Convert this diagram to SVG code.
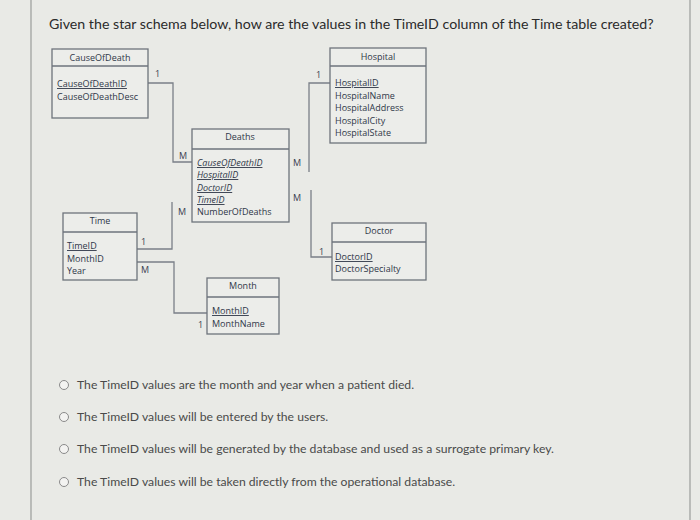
<svg xmlns="http://www.w3.org/2000/svg" width="700" height="520" viewBox="0 0 700 520">
<style>
.bg{fill:#e9eae6}
.frame{stroke:#9a9c9a;stroke-width:1.2}
.box{fill:#ecedea;stroke:#6e737c;stroke-width:1.3}
.div{stroke:#6e737c;stroke-width:1.3}
.hdr{font-family:"Open Sans","DejaVu Sans",sans-serif;font-size:9px;fill:#2f3748;text-anchor:middle}
.att{font-family:"Open Sans","DejaVu Sans",sans-serif;font-size:9px;fill:#2f3748}
.pk{text-decoration:underline}
.fk{text-decoration:underline;font-style:italic}
.card{font-family:"Open Sans","DejaVu Sans",sans-serif;font-size:9px;fill:#3a4150}
.conn{fill:none;stroke:#7a7f88;stroke-width:1.3}
.q{font-family:Lato,"Liberation Sans",sans-serif;font-size:14.2px;fill:#2b2b2b}
.opt{font-family:Lato,"Liberation Sans",sans-serif;font-size:12.2px;fill:#4a4a4a}
.radio{fill:#f3f3f1;stroke:#8a8a8a;stroke-width:1}
</style>
<rect class="bg" x="0" y="0" width="700" height="520"/>
<line class="frame" x1="31" y1="0" x2="31" y2="520"/>
<line class="frame" x1="690" y1="0" x2="690" y2="520"/>
<text class="q" x="49" y="29">Given the star schema below, how are the values in the TimeID column of the Time table created?</text>

<g id="connectors">
<polyline class="conn" points="148,83 173,83 173,162 192,162"/>
<polyline class="conn" points="137,249 172,249 172,202"/>
<polyline class="conn" points="137,262 174,262 174,313 207,313"/>
<polyline class="conn" points="330,83 309,83 309,172"/>
<polyline class="conn" points="311,190 311,257 332,257"/>
<text class="card" x="155" y="77">1</text>
<text class="card" x="179" y="159">M</text>
<text class="card" x="178" y="215">M</text>
<text class="card" x="293" y="166">M</text>
<text class="card" x="293" y="201">M</text>
<text class="card" x="316" y="78">1</text>
<text class="card" x="319" y="255">1</text>
<text class="card" x="141" y="245">1</text>
<text class="card" x="141" y="273">M</text>
<text class="card" x="198" y="328">1</text>
</g>

<g id="CauseOfDeath">
<rect class="box" x="52" y="49" width="96" height="69"/>
<line class="div" x1="52" y1="66" x2="148" y2="66"/>
<text class="hdr" x="100" y="61">CauseOfDeath</text>
<text class="att pk" x="57" y="87">CauseOfDeathID</text>
<text class="att" x="57" y="100">CauseOfDeathDesc</text>
</g>

<g id="Hospital">
<rect class="box" x="330" y="48" width="96" height="95"/>
<line class="div" x1="330" y1="66" x2="426" y2="66"/>
<text class="hdr" x="378" y="60">Hospital</text>
<text class="att pk" x="335" y="86">HospitalID</text>
<text class="att" x="335" y="99">HospitalName</text>
<text class="att" x="335" y="111">HospitalAddress</text>
<text class="att" x="335" y="124">HospitalCity</text>
<text class="att" x="335" y="136">HospitalState</text>
</g>

<g id="Deaths">
<rect class="box" x="192" y="129" width="97" height="93"/>
<line class="div" x1="192" y1="149" x2="289" y2="149"/>
<text class="hdr" x="240" y="140">Deaths</text>
<text class="att fk" x="197" y="166">CauseOfDeathID</text>
<text class="att fk" x="197" y="178">HospitalID</text>
<text class="att fk" x="197" y="191">DoctorID</text>
<text class="att fk" x="197" y="203">TimeID</text>
<text class="att" x="197" y="215">NumberOfDeaths</text>
</g>

<g id="Time">
<rect class="box" x="63" y="213" width="74" height="67"/>
<line class="div" x1="63" y1="232" x2="137" y2="232"/>
<text class="hdr" x="100" y="224">Time</text>
<text class="att pk" x="67" y="249">TimeID</text>
<text class="att" x="67" y="262">MonthID</text>
<text class="att" x="67" y="274">Year</text>
</g>

<g id="Doctor">
<rect class="box" x="332" y="223" width="94" height="57"/>
<line class="div" x1="332" y1="242" x2="426" y2="242"/>
<text class="hdr" x="379" y="234">Doctor</text>
<text class="att pk" x="335" y="260">DoctorID</text>
<text class="att" x="335" y="272">DoctorSpecialty</text>
</g>

<g id="Month">
<rect class="box" x="207" y="278" width="72" height="56"/>
<line class="div" x1="207" y1="297" x2="279" y2="297"/>
<text class="hdr" x="243" y="289">Month</text>
<text class="att pk" x="212" y="314">MonthID</text>
<text class="att" x="212" y="327">MonthName</text>
</g>

<g id="options">
<circle class="radio" cx="64" cy="385" r="4.5"/>
<text class="opt" x="77" y="389">The TimeID values are the month and year when a patient died.</text>
<circle class="radio" cx="64" cy="417" r="4.5"/>
<text class="opt" x="77" y="421">The TimeID values will be entered by the users.</text>
<circle class="radio" cx="64" cy="449" r="4.5"/>
<text class="opt" x="77" y="453">The TimeID values will be generated by the database and used as a surrogate primary key.</text>
<circle class="radio" cx="64" cy="482" r="4.5"/>
<text class="opt" x="77" y="486">The TimeID values will be taken directly from the operational database.</text>
</g>
</svg>
